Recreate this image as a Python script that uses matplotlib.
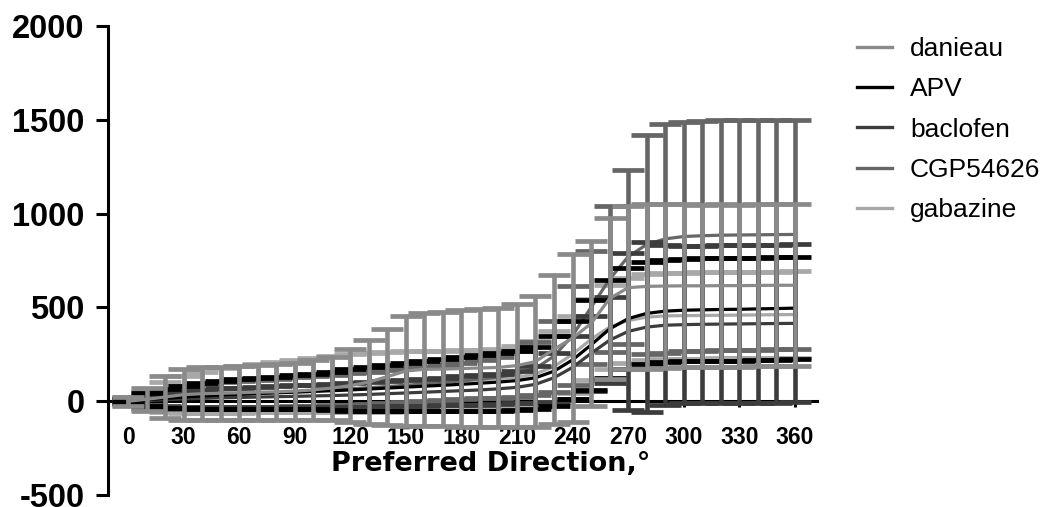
import numpy as np
import matplotlib
matplotlib.use("Agg")
import matplotlib.pyplot as plt
from matplotlib.lines import Line2D

plt.rcParams['font.family'] = ['Liberation Sans', 'DejaVu Sans']
plt.rcParams['axes.unicode_minus'] = False

# preferred direction, degrees (one point every 10 deg)
directions = list(range(0, 361, 10))

series_names = ['danieau', 'APV', 'baclofen', 'CGP54626', 'gabazine']
series_colors = ['#8a8a8a', '#000000', '#3c3c3c', '#666666', '#a8a8a8']

danieau_mean = [0, 10, 22, 35, 40, 42, 45, 48, 50, 54, 60, 70, 83, 102, 131, 161, 170, 171, 174,
                177, 180, 190, 211, 277, 336, 414, 547, 605, 612, 614, 615, 615, 616, 616, 617, 618, 618]
danieau_sd = [25, 60, 110, 135, 140, 142, 145, 147, 150, 152, 158, 168, 193, 222, 256, 293, 302, 305, 310,
              312, 318, 330, 351, 398, 446, 439, 430, 435, 438, 436, 434, 433, 433, 432, 432, 432, 432]

apv_mean = [0, 8, 15, 22, 28, 33, 37, 41, 45, 48, 52, 56, 60, 65, 70, 75, 80, 85, 90,
            96, 102, 110, 125, 160, 220, 300, 385, 440, 468, 480, 485, 487, 489, 490, 492, 494, 496]
apv_sd = [12, 35, 50, 60, 68, 77, 80, 83, 85, 90, 95, 102, 110, 116, 122, 128, 133, 138, 143,
          148, 153, 158, 165, 185, 210, 240, 260, 270, 272, 273, 273, 274, 274, 274, 273, 272, 270]

baclofen_mean = [0, 3, 8, 12, 15, 18, 20, 22, 24, 26, 28, 30, 33, 36, 40, 44, 48, 52, 56,
                 60, 66, 74, 90, 125, 180, 255, 325, 372, 395, 405, 408, 410, 411, 412, 413, 414, 415]
baclofen_sd = [10, 25, 35, 42, 46, 50, 52, 54, 56, 58, 60, 62, 64, 66, 68, 70, 72, 74, 76,
               78, 80, 85, 100, 130, 170, 200, 230, 420, 455, 425, 418, 418, 419, 420, 420, 421, 421]

cgp_mean = [0, 6, 12, 18, 24, 30, 35, 40, 45, 50, 55, 60, 66, 72, 78, 85, 92, 100, 108,
            117, 128, 145, 175, 240, 350, 500, 650, 770, 835, 865, 878, 882, 885, 886, 887, 888, 889]
cgp_sd = [15, 40, 55, 62, 66, 70, 72, 74, 76, 78, 80, 82, 84, 86, 88, 90, 92, 95, 98,
          102, 110, 120, 140, 190, 263, 300, 389, 464, 585, 610, 610, 612, 612, 613, 612, 611, 611]

gabazine_mean = [0, 10, 25, 35, 45, 55, 62, 70, 75, 80, 85, 90, 95, 100, 103, 106, 108, 110, 112,
                 115, 120, 128, 145, 185, 250, 330, 395, 430, 448, 455, 456, 457, 458, 459, 460, 461, 462]
gabazine_sd = [20, 50, 80, 100, 110, 120, 125, 130, 135, 140, 145, 150, 155, 157, 158, 159, 160, 160, 160,
               160, 160, 165, 175, 190, 205, 215, 222, 228, 230, 230, 230, 230, 230, 230, 230, 230, 230]

means = [danieau_mean, apv_mean, baclofen_mean, cgp_mean, gabazine_mean]
sds = [danieau_sd, apv_sd, baclofen_sd, cgp_sd, gabazine_sd]
# first data set ends up on top, like the original
orders = [7, 6, 5, 4, 3]

fig = plt.figure(figsize=(10.54, 5.07), dpi=100)
ax = fig.add_axes([108 / 1054, 12 / 507, (817 - 108) / 1054, (495 - 26) / 507])

for name, color, m, s, z in zip(series_names, series_colors, means, sds, orders):
    ax.errorbar(directions, m, yerr=s, color=color, ecolor=color, linewidth=2.3,
                elinewidth=3.3, capsize=11.5, capthick=3.4, zorder=z, label=name)

ax.set_xlim(-10.8, 372)
ax.set_ylim(-500, 2000)

ax.spines['top'].set_visible(False)
ax.spines['right'].set_visible(False)
ax.spines['left'].set_linewidth(2.2)
ax.spines['bottom'].set_linewidth(2.2)
ax.spines['bottom'].set_position(('data', 0))

ax.set_xticks(range(0, 361, 30))
ax.set_yticks([-500, 0, 500, 1000, 1500, 2000])
ax.tick_params(axis='x', direction='out', length=4.5, width=2.2, pad=13, labelsize=16.5)
ax.tick_params(axis='y', direction='out', length=9, width=2.2, pad=8, labelsize=23.5)
for lab in ax.get_xticklabels() + ax.get_yticklabels():
    lab.set_fontweight('bold')

fig.text(491 / 1054, 1 - 464 / 507, 'Preferred Direction,°', ha='center', va='center',
         fontsize=19.5, fontweight='bold', family='DejaVu Sans')

handles = [Line2D([], [], color=c, linewidth=2.4) for c in series_colors]
fig.legend(handles, series_names, loc='upper left', bbox_to_anchor=(857 / 1054, 1 - 37 / 507),
           frameon=False, fontsize=19, handlelength=1.33, handletextpad=0.68,
           labelspacing=0.62, borderpad=0, borderaxespad=0)

fig.savefig('out.png', dpi=100)
